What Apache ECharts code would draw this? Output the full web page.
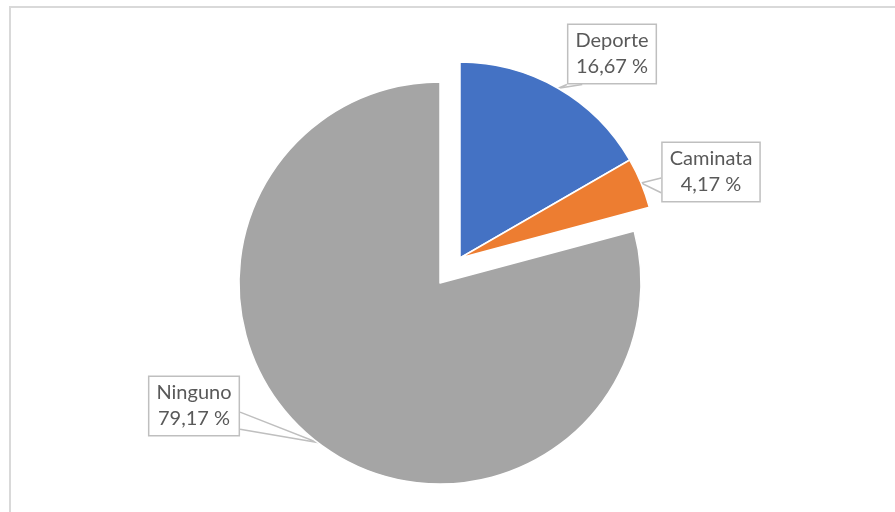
<!DOCTYPE html>
<html>
<head>
<meta charset="utf-8">
<script src="https://cdn.jsdelivr.net/npm/echarts@6/dist/echarts.min.js"></script>
<style>
  html, body { margin: 0; padding: 0; background: #ffffff; }
  #chart { width: 895px; height: 512px; }
</style>
</head>
<body>
<div id="chart"></div>
<script>
// Actividad física: share of respondents per activity (percent)
const categories = ['Deporte', 'Caminata', 'Ninguno'];
const shares = [16.67, 4.17, 79.17];
const sliceColors = ['#4472C4', '#ED7D31', '#A5A5A5'];
const exploded = [true, true, false];

// Callout boxes: centre of each box and the side its pointer leaves from
const callouts = {
  'Deporte':  { cx: 612, cy: 54,  side: 'bottom', base: [0.0, 0.17] },
  'Caminata': { cx: 711, cy: 172, side: 'left',   base: [0.60, 0.84] },
  'Ninguno':  { cx: 194, cy: 406, side: 'right',  base: [0.60, 0.88] }
};

function fmt(v) {
  return v.toFixed(2).replace('.', ',') + ' %';
}

function hiddenItem(name, value) {
  return {
    name: name,
    value: value,
    itemStyle: { color: 'rgba(0,0,0,0)', borderWidth: 0 },
    label: { show: false },
    labelLine: { show: false }
  };
}

function buildData(showExploded) {
  return categories.map((name, i) => {
    if (exploded[i] === showExploded) {
      return { name: name, value: shares[i], itemStyle: { color: sliceColors[i] } };
    }
    return hiddenItem(name, shares[i]);
  });
}

const labelStyle = {
  show: true,
  position: 'outside',
  formatter: p => p.name + '\n' + fmt(p.value),
  fontFamily: 'Lato',
  fontSize: 20,
  lineHeight: 26,
  color: '#595959',
  align: 'center',
  backgroundColor: '#ffffff',
  borderColor: '#bfbfbf',
  borderWidth: 1.5,
  padding: [3, 7, 3, 7]
};

// Place each callout box and draw a wedge pointer from the box to its slice
function layoutCallout(params) {
  const name = categories[params.dataIndex];
  const c = callouts[name];
  const visible = exploded[params.dataIndex] === (params.seriesIndex === 1);
  if (!c || !visible || !params.labelLinePoints) return {};
  const w = params.labelRect.width, h = params.labelRect.height;
  const left = c.cx - w / 2, top = c.cy - h / 2;
  const tip = params.labelLinePoints[0];
  let b1, b2;
  if (c.side === 'bottom') {
    b1 = [left + w * c.base[0], top + h];
    b2 = [left + w * c.base[1], top + h];
  } else if (c.side === 'left') {
    b1 = [left, top + h * c.base[0]];
    b2 = [left, top + h * c.base[1]];
  } else {
    b1 = [left + w, top + h * c.base[0]];
    b2 = [left + w, top + h * c.base[1]];
  }
  return {
    x: c.cx,
    y: c.cy,
    align: 'center',
    verticalAlign: 'middle',
    labelLinePoints: [b1, tip, b2]
  };
}

const common = {
  type: 'pie',
  startAngle: 90,
  clockwise: true,
  silent: true,
  animation: false,
  avoidLabelOverlap: false,
  label: labelStyle,
  labelLine: {
    show: true,
    length: 10,
    length2: 10,
    lineStyle: { color: '#bfbfbf', width: 1.5 }
  },
  labelLayout: layoutCallout,
  itemStyle: { borderColor: '#ffffff', borderWidth: 1.5 },
  emphasis: { disabled: true }
};

const chart = echarts.init(document.getElementById('chart'), null, { renderer: 'canvas' });
chart.setOption({
  backgroundColor: '#ffffff',
  animation: false,
  tooltip: { show: false },
  graphic: [{
    type: 'rect',
    silent: true,
    z: -1,
    shape: { x: 10, y: 7, width: 1000, height: 1000 },
    style: { fill: 'none', stroke: '#d9d9d9', lineWidth: 2 }
  }],
  series: [
    Object.assign({}, common, {
      name: 'Ninguno',
      center: [440, 283],
      radius: 201,
      data: buildData(false)
    }),
    Object.assign({}, common, {
      name: 'Actividad',
      center: [460, 258],
      radius: 196,
      data: buildData(true)
    })
  ]
});
</script>
</body>
</html>
